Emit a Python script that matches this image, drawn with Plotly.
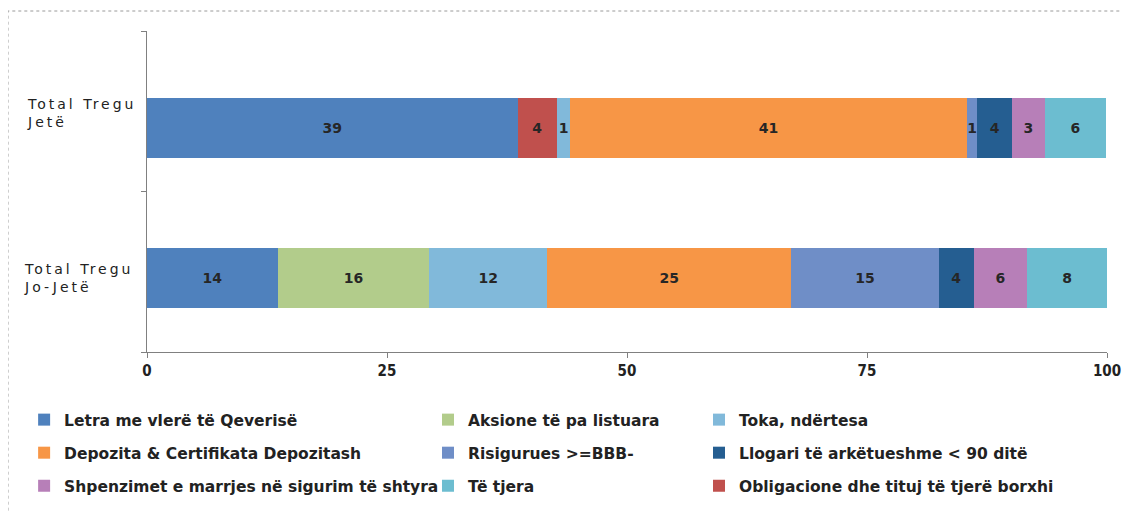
import plotly.graph_objects as go

# categories (bottom to top)
categories = ["Total Tregu Jo-Jetë", "Total Tregu Jetë"]
cat_labels = ["Total Tregu<br>Jo-Jetë", "Total Tregu<br>Jetë"]

# series values per category, [Jo-Jetë, Jetë]
letra = [13.6, 38.6]
aksione = [15.8, 0.0]
obligacione = [0.0, 4.1]
toka = [12.3, 1.4]
depozita = [25.4, 41.3]
risigurues = [15.4, 1.1]
llogari = [3.6, 3.6]
shpenzimet = [5.6, 3.4]
te_tjera = [8.3, 6.4]

x_ticks = [0, 25, 50, 75, 100]

series = [
    ("Letra me vlerë të Qeverisë", letra, "#4F81BD"),
    ("Aksione të pa listuara", aksione, "#B2CC8B"),
    ("Obligacione dhe tituj të tjerë borxhi", obligacione, "#C0504D"),
    ("Toka, ndërtesa", toka, "#81B9DA"),
    ("Depozita & Certifikata Depozitash", depozita, "#F79646"),
    ("Risigurues >=BBB-", risigurues, "#6F8EC7"),
    ("Llogari të arkëtueshme < 90 ditë", llogari, "#255E91"),
    ("Shpenzimet e marrjes në sigurim të shtyra", shpenzimet, "#B77FB8"),
    ("Të tjera", te_tjera, "#6CBDD0"),
]

# legend grid slot (column, row) for each series, same order as above
legend_slots = [(0, 0), (1, 0), (2, 2), (2, 0), (0, 1), (1, 1), (2, 1), (0, 2), (1, 2)]
col_x = [-0.128, 0.2927, 0.575]
row_y = [-0.212, -0.315, -0.418]

fig = go.Figure()
layout_legends = {}
for i, (name, vals, color) in enumerate(series):
    lname = "legend" if i == 0 else "legend%d" % (i + 1)
    fig.add_trace(go.Bar(
        name=name,
        y=categories,
        x=vals,
        orientation="h",
        marker=dict(color=color, line=dict(width=0)),
        width=0.374,
        offset=[-0.227, -0.294],
        text=["%.0f" % v if v > 0 else "" for v in vals],
        textposition="inside",
        insidetextanchor="middle",
        constraintext="none",
        textfont=dict(family="DejaVu Sans", size=14, color="#262626", weight=700),
        cliponaxis=False,
        legend=lname,
    ))
    c, r = legend_slots[i]
    layout_legends[lname] = dict(
        x=col_x[c], y=row_y[r], xanchor="left", yanchor="middle",
        font=dict(family="DejaVu Sans", size=15.5, color="#222222", weight=700),
        bgcolor="rgba(0,0,0,0)",
    )

for i, lab in enumerate(cat_labels):
    top, bottom = lab.split("<br>")
    fig.add_annotation(
        text='<span style="letter-spacing:3px">%s</span><br><span style="letter-spacing:3px">%s</span>' % (top, bottom),
        x=[-0.130, -0.127][i], xref="paper", xanchor="left", align="left",
        y=i, yref="y", yshift=[-6, -2][i],
        showarrow=False,
        font=dict(family="DejaVu Sans", size=14, color="#222222"),
    )

# dotted outer frame
fig.add_shape(type="rect", xref="paper", yref="paper",
              x0=-0.1448, x1=1.08, y0=-0.7, y1=1.0623,
              line=dict(color="#9a9a9a", width=1, dash="dot"))

# page body adds an 8px offset, so the figure is 8px smaller than the window
fig.update_layout(
    barmode="stack",
    width=1122, height=504,
    margin=dict(l=139, r=23, t=23, b=160, autoexpand=False),
    paper_bgcolor="white", plot_bgcolor="white",
    showlegend=True,
    **layout_legends,
)
fig.update_xaxes(
    range=[0, 100], tickvals=x_ticks, ticks="outside", ticklen=5, tickcolor="#808080",
    showgrid=False, zeroline=False, showline=True, linecolor="#808080", linewidth=1,
    tickfont=dict(family="DejaVu Sans Condensed", size=15, color="#222222", weight=700),
)
fig.update_yaxes(
    type="category", categoryorder="array", categoryarray=categories,
    range=[-0.5, 1.5], tickson="boundaries", ticks="outside", ticklen=5, tickcolor="#808080",
    showticklabels=False, showgrid=False, zeroline=False,
    showline=True, linecolor="#808080", linewidth=1,
)

fig.write_html("out.html")
